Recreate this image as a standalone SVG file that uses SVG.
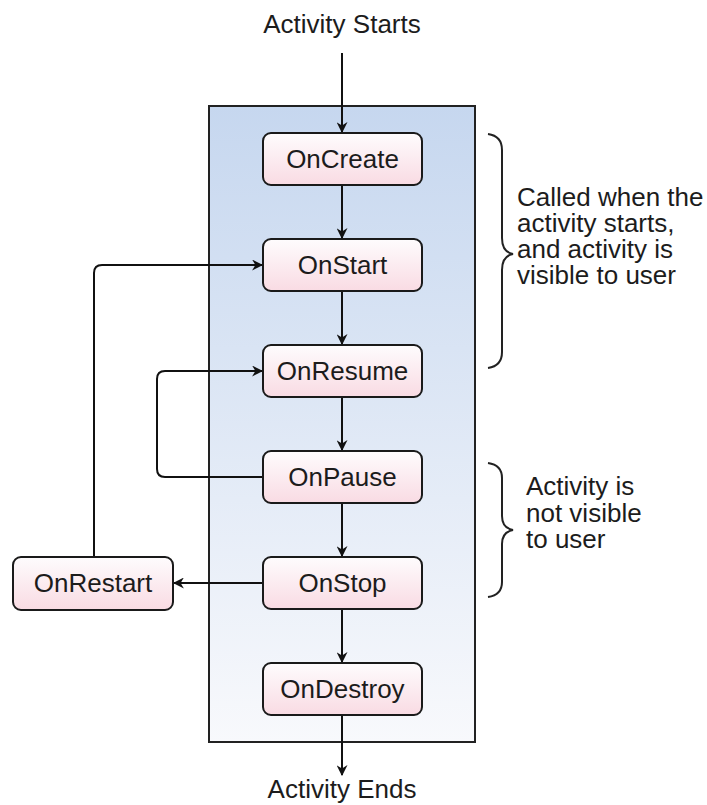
<svg xmlns="http://www.w3.org/2000/svg" width="707" height="805" viewBox="0 0 707 805">
<style>
.lbl{font-family:"Liberation Sans",Arial,sans-serif;font-size:26px;fill:#1c1c1c;}
.mid{text-anchor:middle;}
.node{fill:url(#nodeGrad);stroke:#1a1a1a;stroke-width:2;}
.conn{fill:none;stroke:#111;stroke-width:2;}
.brace{fill:none;stroke:#222;stroke-width:2;}
</style>
<defs>
<linearGradient id="boxGrad" x1="0" y1="0" x2="0" y2="1">
<stop offset="0" stop-color="#c6d7ef"/>
<stop offset="1" stop-color="#f8f9fc"/>
</linearGradient>
<linearGradient id="nodeGrad" x1="0" y1="0" x2="0" y2="1">
<stop offset="0" stop-color="#fefcfd"/>
<stop offset="1" stop-color="#f9dbe3"/>
</linearGradient>
<marker id="arr" viewBox="0 0 10 10" refX="9" refY="5" markerWidth="11" markerHeight="11" markerUnits="userSpaceOnUse" orient="auto">
<path d="M0,0 L10,5 L0,10 L3,5 z" fill="#111"/>
</marker>
</defs>
<rect width="707" height="805" fill="#ffffff"/>
<g id="container">
<rect x="209" y="106" width="266" height="636" fill="url(#boxGrad)" stroke="#222" stroke-width="2"/>
</g>
<g id="connectors">
<line class="conn" x1="342" y1="53" x2="342" y2="132" marker-end="url(#arr)"/>
<line class="conn" x1="342" y1="185" x2="342" y2="238" marker-end="url(#arr)"/>
<line class="conn" x1="342" y1="291" x2="342" y2="344" marker-end="url(#arr)"/>
<line class="conn" x1="342" y1="397" x2="342" y2="450" marker-end="url(#arr)"/>
<line class="conn" x1="342" y1="503" x2="342" y2="556" marker-end="url(#arr)"/>
<line class="conn" x1="342" y1="609" x2="342" y2="662" marker-end="url(#arr)"/>
<line class="conn" x1="342" y1="715" x2="342" y2="775" marker-end="url(#arr)"/>
<line class="conn" x1="263" y1="583" x2="174" y2="583" marker-end="url(#arr)"/>
<path class="conn" d="M94,557 V273 Q94,265 102,265 H262" marker-end="url(#arr)"/>
<path class="conn" d="M263,477 H165 Q157,477 157,469 V379 Q157,371 165,371 H262" marker-end="url(#arr)"/>
</g>
<g id="start"><text class="lbl mid" x="342" y="33">Activity Starts</text></g>
<g id="end"><text class="lbl mid" x="342" y="798">Activity Ends</text></g>
<g id="oncreate"><rect class="node" x="263" y="133" width="159" height="52" rx="8"/><text class="lbl mid" x="342.5" y="168">OnCreate</text></g>
<g id="onstart"><rect class="node" x="263" y="239" width="159" height="52" rx="8"/><text class="lbl mid" x="342.5" y="274">OnStart</text></g>
<g id="onresume"><rect class="node" x="263" y="345" width="159" height="52" rx="8"/><text class="lbl mid" x="342.5" y="380">OnResume</text></g>
<g id="onpause"><rect class="node" x="263" y="451" width="159" height="52" rx="8"/><text class="lbl mid" x="342.5" y="486">OnPause</text></g>
<g id="onstop"><rect class="node" x="263" y="557" width="159" height="52" rx="8"/><text class="lbl mid" x="342.5" y="592">OnStop</text></g>
<g id="ondestroy"><rect class="node" x="263" y="663" width="159" height="52" rx="8"/><text class="lbl mid" x="342.5" y="698">OnDestroy</text></g>
<g id="onrestart"><rect class="node" x="13" y="557" width="160" height="53" rx="8"/><text class="lbl mid" x="93" y="592">OnRestart</text></g>
<g id="brace1">
<path class="brace" d="M488,134 Q502,136 502,150 V238 Q502,252 513,254 Q502,256 502,270 V352 Q502,366 488,368"/>
<text class="lbl" x="517" y="206">Called when the</text>
<text class="lbl" x="517" y="232">activity starts,</text>
<text class="lbl" x="517" y="258">and activity is</text>
<text class="lbl" x="517" y="284">visible to user</text>
</g>
<g id="brace2">
<path class="brace" d="M488,463 Q502,465 502,478 V516 Q502,528 513,530 Q502,532 502,544 V582 Q502,595 488,597"/>
<text class="lbl" x="526" y="495">Activity is</text>
<text class="lbl" x="526" y="522">not visible</text>
<text class="lbl" x="526" y="548">to user</text>
</g>
</svg>
